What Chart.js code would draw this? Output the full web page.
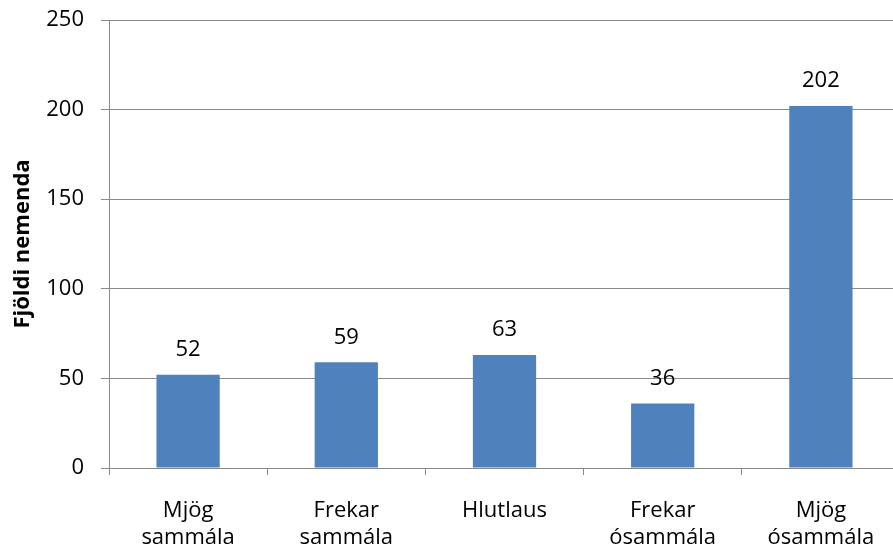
<!DOCTYPE html>
<html lang="is">
<head>
  <meta charset="UTF-8">
  <title>Fjöldi nemenda</title>
  <script src="https://cdn.jsdelivr.net/npm/chart.js"></script>
  <style>
    html, body { margin: 0; padding: 0; overflow: hidden; background: #fff; }
    #wrap { width: 900px; height: 547px; }
  </style>
</head>
<body>
  <div id="wrap"><canvas id="myChart"></canvas></div>

  <script>
    // answers and counts
    const categories = [["Mjög", "sammála"], ["Frekar", "sammála"], ["Hlutlaus"], ["Frekar", "ósammála"], ["Mjög", "ósammála"]];
    const counts = [52, 59, 63, 36, 202];
    const yTicks = [0, 50, 100, 150, 200, 250];

    const FONT = "'Open Sans', sans-serif";
    const GRID = '#898989';

    // number over each bar
    const barLabels = {
      id: 'barLabels',
      afterDatasetsDraw(chart) {
        const ctx = chart.ctx;
        const meta = chart.getDatasetMeta(0);
        ctx.save();
        ctx.font = '22px ' + FONT;
        ctx.fillStyle = '#000';
        ctx.textAlign = 'center';
        ctx.textBaseline = 'middle';
        meta.data.forEach((bar, i) => {
          ctx.fillText(counts[i], bar.x, bar.y - 25);
        });
        ctx.restore();
      }
    };

    const ctx = document.getElementById('myChart').getContext('2d');
    new Chart(ctx, {
      type: 'bar',
      data: {
        labels: categories,
        datasets: [{
          data: counts,
          backgroundColor: '#4F81BD',
          barPercentage: 0.8,
          categoryPercentage: 0.5
        }]
      },
      options: {
        responsive: true,
        maintainAspectRatio: false,
        animation: false,
        layout: { padding: { top: 20, right: 0, left: 0, bottom: 0 } },
        plugins: {
          legend: { display: false },
          tooltip: { enabled: false }
        },
        scales: {
          x: {
            grid: { display: true, drawOnChartArea: false, offset: true, tickLength: 7, color: GRID },
            border: { display: true, color: GRID },
            ticks: { color: '#000', padding: 22, maxRotation: 0, font: { family: FONT, size: 22, lineHeight: 1.23 } },
            afterFit(scale) { scale.height = 79; }
          },
          y: {
            min: 0,
            max: 250,
            afterBuildTicks(scale) { scale.ticks = yTicks.map(v => ({ value: v })); },
            grid: { color: GRID, tickLength: 8 },
            border: { display: true, color: GRID },
            ticks: { color: '#000', padding: 17, font: { family: FONT, size: 22 } },
            title: {
              display: true,
              text: 'Fjöldi nemenda',
              color: '#000',
              padding: { top: 10, bottom: 0 },
              font: { family: FONT, size: 22, weight: 'bold' }
            },
            afterFit(scale) {
              scale.width = 109;
              // tick padding should not push the plot down
              scale.paddingTop = 14;
              scale.paddingBottom = 14;
            }
          }
        }
      },
      plugins: [barLabels]
    });
  </script>
</body>
</html>
